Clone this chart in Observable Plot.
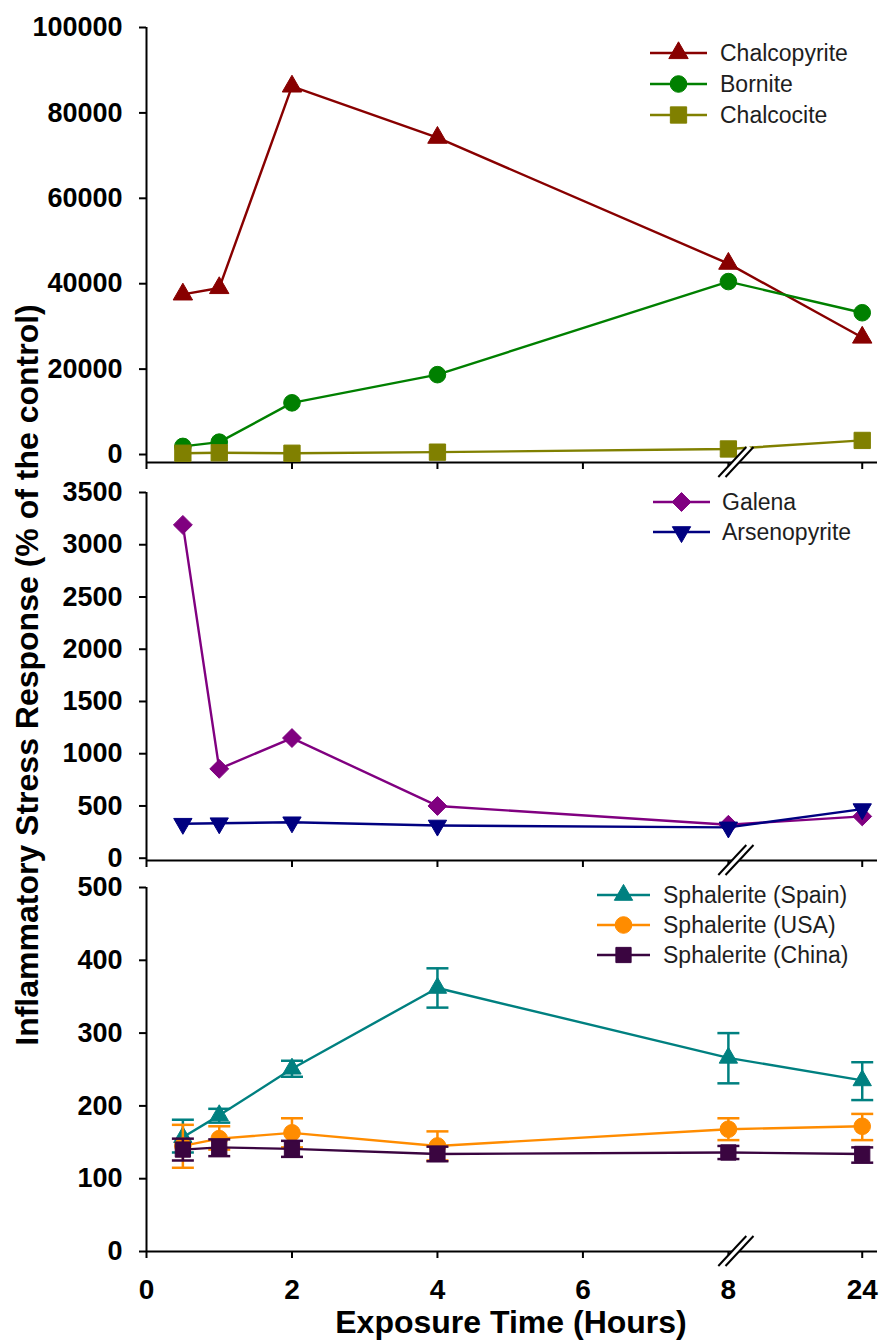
<!DOCTYPE html>
<html>
<head>
<meta charset="utf-8">
<script src="https://cdn.jsdelivr.net/npm/d3@7"></script>
<script src="https://cdn.jsdelivr.net/npm/@observablehq/plot@0.6"></script>
<style>
  body { margin: 0; background: #fff; }
  #wrap { position: relative; width: 881px; height: 1343px; overflow: hidden; background: #fff;
          font-family: "Liberation Sans", Arial, sans-serif; }
  #wrap svg.panel { position: absolute; left: 0; }
  .legrow { position: absolute; display: flex; align-items: center; height: 30px;
            font-size: 23px; color: #1e1e1e; white-space: nowrap; }
  .ytitle { position: absolute; left: 27px; top: 675px; transform: translate(-50%, -50%) rotate(-90deg);
            font-size: 32px; font-weight: bold; white-space: nowrap; line-height: 1; color: #000; }
  .xtitle { position: absolute; left: 511px; top: 1306px; transform: translateX(-50%);
            font-size: 32px; font-weight: bold; white-space: nowrap; line-height: 1; color: #000; }
</style>
</head>
<body>
<div id="wrap"></div>
<script>
// ---------------- data ----------------
const hours = [0.5, 1, 2, 4, 8, 24];
const xTickValues = [0, 2, 4, 6, 8, 24];

// Panel A (top)
const chalcopyrite = [37500, 39000, 86200, 74200, 44700, 27400];
const bornite      = [1900, 2900, 12100, 18700, 40500, 33200];
const chalcocite   = [300, 400, 300, 550, 1300, 3300];
const panelAYTicks = [0, 20000, 40000, 60000, 80000, 100000];

// Panel B (middle)
const galena       = [3190, 855, 1150, 500, 320, 400];
const arsenopyrite = [330, 335, 344, 313, 295, 470];
const panelBYTicks = [0, 500, 1000, 1500, 2000, 2500, 3000, 3500];

// Panel C (bottom) with error bars
const spain   = [157, 187, 251, 362, 266, 235];
const spainLo = [136, 177, 240, 335, 231, 208];
const spainHi = [181, 196, 262, 389, 300, 260];
const usa     = [145, 155, 163, 145, 168, 172];
const usaLo   = [115, 140, 143, 125, 153, 153];
const usaHi   = [174, 172, 183, 165, 183, 189];
const china   = [140, 143, 141, 134, 136, 134];
const chinaLo = [125, 131, 130, 124, 127, 122];
const chinaHi = [155, 154, 152, 144, 145, 143];
const panelCYTicks = [0, 100, 200, 300, 400, 500];

const xTitle = "Exposure Time (Hours)";
const yTitle = "Inflammatory Stress Response (% of the control)";

// ---------------- broken x axis: 8 → 24 compressed ----------------
const xPos = h => (h <= 8 ? h : 8 + (h - 8) * (1.84 / 16));
const xMax = 10.05;
const tickLabel = new Map(xTickValues.map(t => [xPos(t), String(t)]));

// ---------------- helpers ----------------
const rows = (vals, lo, hi) => hours.map((h, i) => ({x: xPos(h), v: vals[i], lo: lo ? lo[i] : null, hi: hi ? hi[i] : null}));

const capSymbol = {
  draw(ctx, size) {
    const w = Math.sqrt(size / Math.PI);
    ctx.moveTo(-w, 0);
    ctx.lineTo(w, 0);
  }
};

const symbolMap = {
  triangle: d3.symbolTriangle,
  circle: d3.symbolCircle,
  square: d3.symbolSquare,
  diamond2: d3.symbolDiamond2
};

const seriesA = [
  {name: "Chalcopyrite", vals: chalcopyrite, color: "#880000", symbol: "triangle", r: 7.2, rotate: 0},
  {name: "Bornite", vals: bornite, color: "#008000", symbol: "circle", r: 8.3, rotate: 0},
  {name: "Chalcocite", vals: chalcocite, color: "#808000", symbol: "square", r: 9.2, rotate: 0}
];
const seriesB = [
  {name: "Galena", vals: galena, color: "#800080", symbol: "diamond2", r: 8.5, rotate: 0},
  {name: "Arsenopyrite", vals: arsenopyrite, color: "#000080", symbol: "triangle", r: 6.8, rotate: 180}
];
const seriesC = [
  {name: "Sphalerite (Spain)", vals: spain, lo: spainLo, hi: spainHi, color: "#008080", symbol: "triangle", r: 6.8, rotate: 0},
  {name: "Sphalerite (USA)", vals: usa, lo: usaLo, hi: usaHi, color: "#ff8c00", symbol: "circle", r: 8.3, rotate: 0},
  {name: "Sphalerite (China)", vals: china, lo: chinaLo, hi: chinaHi, color: "#3a0540", symbol: "square", r: 8.6, rotate: 0}
];

function breakMark(yBase) {
  return (index, scales) => {
    const g = d3.create("svg:g");
    const cx = scales.x(xPos(8)) + 8;
    const cy = scales.y(yBase);
    const dx = 14, dy = 15;
    g.append("line").attr("x1", cx - dx).attr("y1", cy + dy).attr("x2", cx + dx).attr("y2", cy - dy)
      .attr("stroke", "white").attr("stroke-width", 5);
    for (const o of [-3.6, 3.6]) {
      g.append("line").attr("x1", cx - dx + o).attr("y1", cy + dy).attr("x2", cx + dx + o).attr("y2", cy - dy)
        .attr("stroke", "black").attr("stroke-width", 2);
    }
    return g.node();
  };
}

function makePanel(cfg) {
  const marks = [];
  marks.push(Plot.ruleX([0], {y1: cfg.yBase, y2: cfg.yMax, stroke: "black", strokeWidth: 2}));
  marks.push(Plot.ruleY([cfg.yBase], {stroke: "black", strokeWidth: 2}));
  marks.push(Plot.axisY({ticks: cfg.yTicks, tickSize: 7, tickPadding: 17, tickFormat: d => String(d),
    label: null, strokeWidth: 2, fontSize: 27, fontWeight: "bold"}));
  marks.push(Plot.axisX({ticks: xTickValues.map(xPos), tickSize: 7, tickPadding: 21,
    tickFormat: cfg.xLabels ? (d => tickLabel.get(d)) : (() => ""), label: null, strokeWidth: 2, fontSize: 28, fontWeight: "bold"}));
  for (const s of cfg.series) {
    const data = rows(s.vals, s.lo, s.hi);
    if (s.lo) {
      marks.push(Plot.ruleX(data, {x: "x", y1: "lo", y2: "hi", stroke: s.color, strokeWidth: 2.5}));
      marks.push(Plot.dot(data, {x: "x", y: "lo", symbol: capSymbol, r: 11, stroke: s.color, fill: "none", strokeWidth: 2.5}));
      marks.push(Plot.dot(data, {x: "x", y: "hi", symbol: capSymbol, r: 11, stroke: s.color, fill: "none", strokeWidth: 2.5}));
    }
    marks.push(Plot.line(data, {x: "x", y: "v", stroke: s.color, strokeWidth: 2.4}));
    marks.push(Plot.dot(data, {x: "x", y: "v", symbol: s.symbol, r: s.r, rotate: s.rotate, fill: s.color, stroke: s.color, strokeWidth: 1}));
  }
  marks.push(breakMark(cfg.yBase));
  const svg = Plot.plot({
    width: 881,
    height: cfg.height,
    marginLeft: 146,
    marginRight: 4,
    marginTop: cfg.marginTop,
    marginBottom: cfg.marginBottom,
    x: {domain: [0, xMax]},
    y: {domain: [cfg.yBase, cfg.yMax]},
    style: {background: "transparent", overflow: "visible", color: "black",
            fontFamily: "'Liberation Sans', Arial, sans-serif", fontSize: "27px"},
    marks
  });
  svg.classList.add("panel");
  svg.style.top = cfg.top + "px";
  return svg;
}

function addLegend(wrap, series, cfg) {
  series.forEach((s, i) => {
    const row = document.createElement("div");
    row.className = "legrow";
    row.style.left = cfg.left + "px";
    row.style.top = (cfg.y0 + i * cfg.dy - 15) + "px";
    const w = cfg.textX - cfg.left;
    const sw = d3.create("svg").attr("width", w).attr("height", 30).style("overflow", "visible");
    sw.append("line").attr("x1", 0).attr("x2", cfg.lineLen).attr("y1", 15).attr("y2", 15)
      .attr("stroke", s.color).attr("stroke-width", 2.4);
    sw.append("path")
      .attr("d", d3.symbol(symbolMap[s.symbol], Math.PI * s.r * s.r)())
      .attr("transform", `translate(${cfg.lineLen / 2},15) rotate(${s.rotate})`)
      .attr("fill", s.color).attr("stroke", s.color);
    row.appendChild(sw.node());
    const t = document.createElement("span");
    t.textContent = s.name;
    row.appendChild(t);
    wrap.appendChild(row);
  });
}

// ---------------- build ----------------
const wrap = document.getElementById("wrap");
wrap.appendChild(makePanel({top: 0, height: 474, marginTop: 27, marginBottom: 12,
  yBase: -1870, yMax: 100000, yTicks: panelAYTicks, series: seriesA, xLabels: false}));
wrap.appendChild(makePanel({top: 474, height: 396, marginTop: 18, marginBottom: 10,
  yBase: -22, yMax: 3500, yTicks: panelBYTicks, series: seriesB, xLabels: false}));
wrap.appendChild(makePanel({top: 870, height: 473, marginTop: 17, marginBottom: 92,
  yBase: 0, yMax: 500, yTicks: panelCYTicks, series: seriesC, xLabels: true}));

addLegend(wrap, seriesA, {left: 650, textX: 720, lineLen: 57, y0: 53, dy: 31});
addLegend(wrap, seriesB, {left: 653, textX: 722, lineLen: 57, y0: 502, dy: 30});
addLegend(wrap, seriesC, {left: 597, textX: 663, lineLen: 53, y0: 895, dy: 30});

const yt = document.createElement("div");
yt.className = "ytitle";
yt.textContent = yTitle;
wrap.appendChild(yt);
const xt = document.createElement("div");
xt.className = "xtitle";
xt.textContent = xTitle;
wrap.appendChild(xt);
</script>
</body>
</html>
